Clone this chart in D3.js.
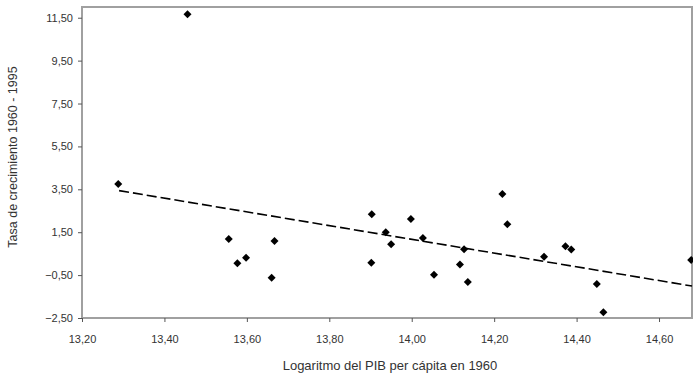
<!DOCTYPE html>
<html>
<head>
<meta charset="utf-8">
<script src="https://cdn.jsdelivr.net/npm/d3@7"></script>
<style>
  body { margin: 0; background: #fff; }
  svg text { font-family: "Liberation Sans", Arial, sans-serif; fill: #333; }
</style>
</head>
<body>
<div id="chart"></div>
<script>
// log GDP per capita 1960 (x) vs growth rate 1960-1995 (y)
const logGdp = [13.456, 13.288, 13.556, 13.577, 13.598, 13.667, 13.660, 13.903, 13.902, 13.937,
                13.950, 13.998, 14.027, 14.054, 14.117, 14.127, 14.136, 14.220, 14.232, 14.321,
                14.373, 14.387, 14.449, 14.465, 14.678];
const growth = [11.66, 3.75, 1.18, 0.05, 0.31, 1.09, -0.62, 2.34, 0.08, 1.50,
                0.94, 2.12, 1.23, -0.48, 0.00, 0.70, -0.82, 3.28, 1.87, 0.36,
                0.84, 0.69, -0.91, -2.23, 0.21];
// linear trend, read at its two ends
const trendX = [13.29, 14.68];
const trendY = [3.44, -1.01];

const xTicks = [13.2, 13.4, 13.6, 13.8, 14.0, 14.2, 14.4, 14.6];
const yTicks = [-2.5, -0.5, 1.5, 3.5, 5.5, 7.5, 9.5, 11.5];

const xTitle = 'Logaritmo del PIB per cápita en 1960';
const yTitle = 'Tasa de crecimiento 1960 - 1995';

const width = 693, height = 377;
const margin = { top: 7, right: 1, bottom: 59, left: 82 };

const svg = d3.select('#chart').append('svg')
  .attr('width', width)
  .attr('height', height);

const x = d3.scaleLinear()
  .domain([13.2, 14.68])
  .range([margin.left, width - margin.right]);

const y = d3.scaleLinear()
  .domain([-2.5, 12])
  .range([height - margin.bottom, margin.top]);

const fmt = v => d3.format('.2f')(v).replace('.', ',');

// plot frame
svg.append('rect')
  .attr('x', margin.left)
  .attr('y', margin.top)
  .attr('width', width - margin.right - margin.left)
  .attr('height', height - margin.bottom - margin.top)
  .attr('fill', 'none')
  .attr('stroke', '#a0a0a0')
  .attr('stroke-width', 2);

const xAxis = svg.append('g')
  .attr('transform', `translate(0,${height - margin.bottom})`)
  .call(d3.axisBottom(x).tickValues(xTicks).tickFormat(fmt).tickSize(4).tickPadding(13));
xAxis.select('.domain').remove();
xAxis.selectAll('line').attr('stroke', '#555');
xAxis.selectAll('text').style('font-size', '11px');

const yAxis = svg.append('g')
  .attr('transform', `translate(${margin.left},0)`)
  .call(d3.axisLeft(y).tickValues(yTicks).tickFormat(fmt).tickSize(4).tickPadding(5));
yAxis.select('.domain').remove();
yAxis.selectAll('line').attr('stroke', '#555');
yAxis.selectAll('text').style('font-size', '11px');

// trend line
svg.append('path')
  .datum(d3.zip(trendX, trendY))
  .attr('fill', 'none')
  .attr('stroke', '#000')
  .attr('stroke-width', 1.6)
  .attr('stroke-dasharray', '10,4')
  .attr('d', d3.line().x(d => x(d[0])).y(d => y(d[1])));

// diamonds
const diamond = d3.symbol().type(d3.symbolSquare).size(32);
svg.selectAll('path.pt')
  .data(d3.zip(logGdp, growth))
  .enter()
  .append('path')
  .attr('class', 'pt')
  .attr('d', diamond)
  .attr('transform', d => `translate(${x(d[0])},${y(d[1])}) rotate(45)`)
  .attr('fill', '#000');

// axis titles
svg.append('text')
  .attr('x', 390)
  .attr('y', 370)
  .attr('text-anchor', 'middle')
  .style('font-size', '13px')
  .text(xTitle);

svg.append('text')
  .attr('transform', 'translate(17,157) rotate(-90)')
  .attr('text-anchor', 'middle')
  .style('font-size', '12.5px')
  .text(yTitle);
</script>
</body>
</html>
